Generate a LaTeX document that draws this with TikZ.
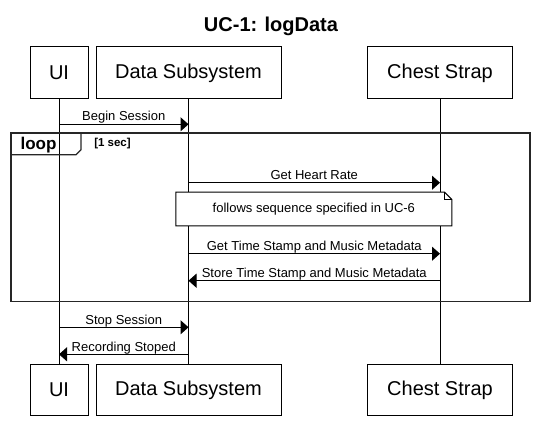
\documentclass[tikz,border=0pt]{standalone}
\usepackage{fontspec}
\setmainfont{Liberation Sans}
\usetikzlibrary{arrows.meta}
\begin{document}
\begin{tikzpicture}[x=1pt,y=-1pt,
  actor/.style={draw,line width=1pt,fill=white,minimum height=52pt,inner sep=0pt,font=\fontsize{20}{24}\selectfont},
  msg/.style={line width=1pt,-{Triangle[length=8pt,width=14pt]}},
  lbl/.style={font=\fontsize{13}{15}\selectfont,inner sep=0pt,midway,anchor=base,yshift=3.3pt},
  life/.style={line width=1pt},
  framebox/.style={draw=black!85,line width=1.6pt},
  tabbox/.style={draw=black!85,line width=1.2pt}]
\useasboundingbox (0,0) rectangle (543,422);
\node[font=\bfseries\fontsize{20}{24}\selectfont] (title) at (271,26) {UC-1: logData};
% participants
\node[actor,minimum width=58pt] (uiT) at (59,73) {UI};
\node[actor,minimum width=185pt] (dsT) at (188.5,73) {Data Subsystem};
\node[actor,minimum width=145pt] (csT) at (440,73) {Chest Strap};
\node[actor,minimum width=58pt,minimum height=51pt] (uiB) at (59,390) {UI};
\node[actor,minimum width=185pt,minimum height=51pt] (dsB) at (188.5,390) {Data Subsystem};
\node[actor,minimum width=145pt,minimum height=51pt] (csB) at (440,390) {Chest Strap};
% lifelines
\draw[life] (uiT.south) -- (uiB.north);
\draw[life] (dsT.south) -- (dsB.north);
\draw[life] (csT.south) -- (csB.north);
% message end points
\coordinate (m1a) at (uiT.south |- 0,124.3);
\coordinate (m1b) at (dsT.south |- 0,124.3);
\coordinate (m2a) at (dsT.south |- 0,182.7);
\coordinate (m2b) at (csT.south |- 0,182.7);
\coordinate (m3a) at (dsT.south |- 0,253.7);
\coordinate (m3b) at (csT.south |- 0,253.7);
\coordinate (m4a) at (csT.south |- 0,280.7);
\coordinate (m4b) at (dsT.south |- 0,280.7);
\coordinate (m5a) at (uiT.south |- 0,327.3);
\coordinate (m5b) at (dsT.south |- 0,327.3);
\coordinate (m6a) at (dsT.south |- 0,354.3);
\coordinate (m6b) at (uiT.south |- 0,354.3);
% loop frame
\coordinate (fTL) at (11,133.3);
\coordinate (fBR) at (530,301.3);
\draw[framebox] (fTL) rectangle (fBR);
\coordinate (tabR) at (81,133.3);
\draw[tabbox] (fTL) -- (tabR) -- ++(0,16.5) -- ++(-5,5) -- (fTL |- 0,154.8);
\node[font=\bfseries\fontsize{17}{20}\selectfont,inner sep=0pt] (looplbl) at (38.5,145) {loop};
\node[font=\bfseries\fontsize{11.5}{14}\selectfont,inner sep=0pt] (guard) at (112.5,143.5) {[1 sec]};
% messages
\draw[msg] (m1a) -- node[lbl] (t1) {Begin Session} (m1b);
\draw[msg] (m2a) -- node[lbl] (t2) {Get Heart Rate} (m2b);
\draw[msg] (m3a) -- node[lbl] (t3) {Get Time Stamp and Music Metadata} (m3b);
\draw[msg] (m4a) -- node[lbl] (t4) {Store Time Stamp and Music Metadata} (m4b);
\draw[msg] (m5a) -- node[lbl] (t5) {Stop Session} (m5b);
\draw[msg] (m6a) -- node[lbl] (t6) {Recording Stoped} (m6b);
% note
\node[fill=white,minimum width=275.7pt,minimum height=33.4pt,inner sep=0pt,font=\fontsize{13}{15}\selectfont] (note) at (313.85,209) {follows sequence specified in UC-6};
\draw[line width=1pt] (note.south west) -- (note.north west) -- ([xshift=-7.5pt]note.north east) -- ([yshift=-7.5pt]note.north east) -- (note.south east) -- cycle;
\draw[line width=0.8pt] ([xshift=-7.5pt]note.north east) -- ([xshift=-7.5pt,yshift=-7.5pt]note.north east) -- ([yshift=-7.5pt]note.north east);
\end{tikzpicture}
\end{document}
